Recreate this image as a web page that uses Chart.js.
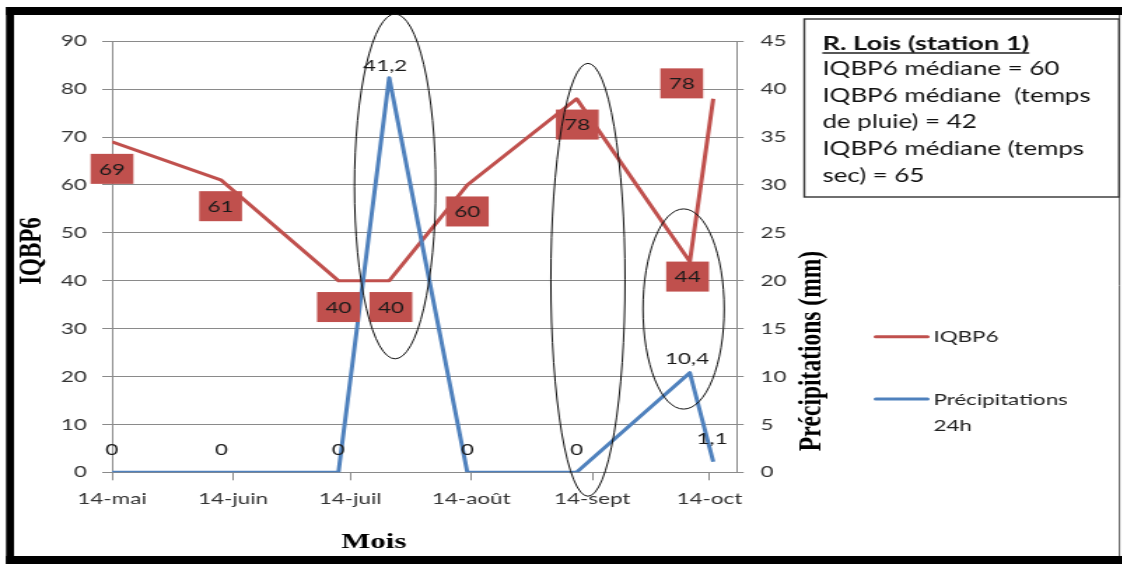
<!DOCTYPE html>
<html>
<head>
<meta charset="utf-8">
<script src="https://cdn.jsdelivr.net/npm/chart.js@4.4.1/dist/chart.umd.min.js"></script>
<style>
  html, body { margin: 0; padding: 0; background: #fff; overflow: hidden; }
  #wrap {
    position: absolute; left: 0; top: 0;
    width: 802px; height: 565px;
    transform: scaleX(1.4); transform-origin: 0 0;
  }
</style>
</head>
<body>
<div id="wrap"><canvas id="c"></canvas></div>
<script>
// Sampling dates (month-day) and measured values
const sampleDates    = ['05-14', '06-11', '07-11', '07-24', '08-13', '09-10', '10-09', '10-15'];
const iqbp6          = [69, 61, 40, 40, 60, 78, 44, 78];
const precipitations = [0, 0, 0, 41.2, 0, 0, 10.4, 1.1];

// Axis ticks
const monthTicks  = ['05-14', '06-14', '07-14', '08-14', '09-14', '10-14'];
const monthNames  = { '05': 'mai', '06': 'juin', '07': 'juil', '08': 'août', '09': 'sept', '10': 'oct' };
const axisStart   = '05-14';
const axisEnd     = '10-21';
const iqbpMax     = 90;
const iqbpStep    = 10;
const precipMax   = 45;
const precipStep  = 5;

// Station summary text
const stationTitle = 'R. Lois (station 1)';
const stationLines = ['IQBP6 médiane = 60', 'IQBP6 médiane  (temps', 'de pluie) = 42', 'IQBP6 médiane (temps', 'sec) = 65'];

// Highlighted zones (centre day / value on the IQBP6 axis, radii in days / IQBP6 units)
const circledZones = [
  { day: 72.5,  value: 59.7, rDays: 10.4, rValue: 36.0 },
  { day: 121.9, value: 40.2, rDays: 9.5,  rValue: 45.2 },
  { day: 146.4, value: 34.1, rDays: 10.4, rValue: 20.9 }
];

// Label nudges (px) relative to each point
const iqbpLabelShift   = [[0, 27], [-0.5, 26], [0, 26.3], [1.2, 26.3], [0, 26.5], [0.5, 25.8], [-1.6, 15], [-22.5, -15.4]];
const precipLabelShift = [[0, -23.6], [0, -23.6], [0, -23.6], [-2.9, -12.7], [0, -23.6], [0, -23.6], [-2, -14.4], [-0.9, -23.7]];

const RED  = '#C0504D';
const BLUE = '#4F81BD';
const GRID = '#8a8a8a';
const TXT  = '#333333';
const SANS = 'Lato, "Open Sans", sans-serif';
const SERIF = '"Liberation Serif", "DejaVu Serif", serif';

function dayOf(md) {
  const [m, d] = md.split('-').map(Number);
  const [m0, d0] = axisStart.split('-').map(Number);
  return (Date.UTC(2001, m - 1, d) - Date.UTC(2001, m0 - 1, d0)) / 86400000;
}
function tickLabel(md) {
  const [m, d] = md.split('-');
  return Number(d) + '-' + monthNames[m];
}
const fr = v => String(v).replace('.', ',');

const framePlugin = {
  id: 'frame',
  beforeDraw(chart) {
    const c = chart.ctx;
    c.save();
    c.fillStyle = '#fff';
    c.fillRect(0, 0, chart.width, chart.height);
    c.fillStyle = '#000';
    c.fillRect(4.3, 7, chart.width - 4.3, 8);
    c.fillRect(4.3, 556, chart.width - 4.3, 8);
    c.fillRect(4.3, 7, 5.7, 557);
    c.strokeStyle = '#555';
    c.lineWidth = 1;
    c.beginPath(); c.moveTo(799.6, 15); c.lineTo(799.6, 556); c.stroke();
    c.restore();
  },
  afterDraw(chart) {
    const c = chart.ctx;
    c.save();
    // Station summary box
    c.strokeStyle = '#333';
    c.lineWidth = 1.4;
    c.strokeRect(574.5, 19, 799.3 - 574.5, 197 - 19);
    c.fillStyle = '#111';
    c.textAlign = 'left';
    c.textBaseline = 'alphabetic';
    c.font = 'bold 19.5px ' + SANS;
    c.fillText(stationTitle, 587.4, 50);
    const tw = c.measureText(stationTitle).width;
    c.fillRect(587.4, 52.3, tw, 1.4);
    c.font = '18.5px ' + SANS;
    const ys = [74.8, 101.5, 128.2, 154.8, 181.5];
    stationLines.forEach((t, i) => c.fillText(t, 587.4, ys[i]));

    // Legend
    const ds = chart.data.datasets;
    c.lineWidth = 3;
    c.lineCap = 'round';
    c.strokeStyle = ds[0].borderColor;
    c.beginPath(); c.moveTo(625.5, 336.7); c.lineTo(662.5, 336.7); c.stroke();
    c.strokeStyle = ds[1].borderColor;
    c.beginPath(); c.moveTo(625.5, 399); c.lineTo(662.5, 399); c.stroke();
    c.fillStyle = '#222';
    c.font = '16px ' + SANS;
    c.fillText(ds[0].label, 666.7, 342.2);
    const parts = ds[1].label.split(' ');
    c.fillText(parts[0], 666.7, 404.8);
    c.fillText(parts[1], 666.7, 431.3);

    // Axis titles
    c.fillStyle = '#000';
    c.font = 'bold 23px ' + SERIF;
    c.textAlign = 'center';
    c.textBaseline = 'middle';
    c.save(); c.translate(23.4, 251); c.rotate(-Math.PI / 2); c.fillText('IQBP6', 0, 0); c.restore();
    c.font = 'bold 23.5px ' + SERIF;
    c.save(); c.translate(580, 351); c.rotate(-Math.PI / 2); c.fillText('Précipitations (mm)', 0, 0); c.restore();
    c.font = 'bold 22px ' + SERIF;
    c.fillText('Mois', 267, 542);

    c.restore();
  }
};

const labelPlugin = {
  id: 'pointLabels',
  afterDatasetsDraw(chart) {
    const c = chart.ctx;
    c.save();
    c.font = '16px ' + SANS;
    c.textAlign = 'center';
    c.textBaseline = 'alphabetic';
    // IQBP6 values in filled boxes
    chart.getDatasetMeta(0).data.forEach((pt, i) => {
      const t = fr(iqbp6[i]);
      const cx = pt.x + iqbpLabelShift[i][0], cy = pt.y + iqbpLabelShift[i][1];
      const w = c.measureText(t).width + 12, h = 30;
      c.fillStyle = RED;
      c.fillRect(cx - w / 2, cy - h / 2, w, h);
      c.fillStyle = '#1a1a1a';
      c.fillText(t, cx, cy + 5.8);
    });
    // Rainfall values as plain text
    c.fillStyle = '#1a1a1a';
    chart.getDatasetMeta(1).data.forEach((pt, i) => {
      const t = fr(precipitations[i]);
      c.fillText(t, pt.x + precipLabelShift[i][0], pt.y + precipLabelShift[i][1] + 5.8);
    });
    // Highlight ellipses
    const xs = chart.scales.x, yl = chart.scales.y;
    c.strokeStyle = '#111';
    c.lineWidth = 1;
    circledZones.forEach(z => {
      const cx = xs.getPixelForValue(z.day);
      const cy = yl.getPixelForValue(z.value);
      const rx = Math.abs(xs.getPixelForValue(z.day + z.rDays) - cx);
      const ry = Math.abs(yl.getPixelForValue(z.value + z.rValue) - cy);
      c.beginPath();
      c.ellipse(cx, cy, rx, ry, 0, 0, Math.PI * 2);
      c.stroke();
    });
    c.restore();
  }
};

new Chart(document.getElementById('c'), {
  type: 'line',
  data: {
    datasets: [
      {
        label: 'IQBP6',
        data: sampleDates.map((d, i) => ({ x: dayOf(d), y: iqbp6[i] })),
        borderColor: RED, backgroundColor: RED,
        borderWidth: 3, pointRadius: 0, tension: 0,
        borderJoinStyle: 'round', yAxisID: 'y', order: 1
      },
      {
        label: 'Précipitations 24h',
        data: sampleDates.map((d, i) => ({ x: dayOf(d), y: precipitations[i] })),
        borderColor: BLUE, backgroundColor: BLUE,
        borderWidth: 3, pointRadius: 0, tension: 0,
        borderJoinStyle: 'round', yAxisID: 'y1', order: 0
      }
    ]
  },
  options: {
    responsive: true,
    maintainAspectRatio: false,
    animation: false,
    layout: { padding: { left: 0, top: 41.3, right: 235.8, bottom: 52.7 } },
    plugins: { legend: { display: false }, tooltip: { enabled: false }, title: { display: false } },
    scales: {
      x: {
        type: 'linear',
        min: dayOf(axisStart),
        max: dayOf(axisEnd),
        afterBuildTicks: s => { s.ticks = monthTicks.map(t => ({ value: dayOf(t) })); },
        afterFit: s => { s.height = 40; },
        ticks: {
          autoSkip: false, maxRotation: 0, minRotation: 0, padding: 9,
          color: TXT, font: { family: SANS, size: 16 },
          callback: v => { const k = monthTicks.find(t => dayOf(t) === v); return k ? tickLabel(k) : ''; }
        },
        grid: { drawOnChartArea: false, drawTicks: true, tickLength: 8, color: GRID },
        border: { display: true, color: GRID, width: 1 }
      },
      y: {
        position: 'left', min: 0, max: iqbpMax,
        afterFit: s => { s.width = 80; },
        ticks: { stepSize: iqbpStep, padding: 11, color: TXT, font: { family: SANS, size: 16 } },
        grid: { color: GRID, tickLength: 7 },
        border: { display: true, color: GRID, width: 1 }
      },
      y1: {
        position: 'right', min: 0, max: precipMax,
        afterFit: s => { s.width = 40; },
        ticks: { stepSize: precipStep, padding: 12, color: TXT, font: { family: SANS, size: 16 } },
        grid: { drawOnChartArea: false, color: GRID, tickLength: 5 },
        border: { display: true, color: GRID, width: 1 }
      }
    }
  },
  plugins: [framePlugin, labelPlugin]
});
</script>
</body>
</html>
